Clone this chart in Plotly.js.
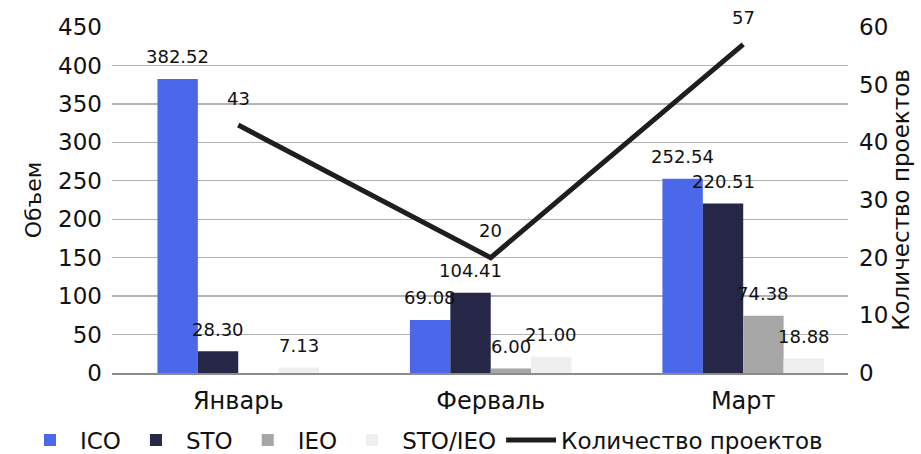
<!DOCTYPE html>
<html>
<head>
<meta charset="utf-8">
<script src="https://cdn.plot.ly/plotly-3.0.1.min.js"></script>
<style>html,body{margin:0;padding:0;background:#fff;}#chart{width:921px;height:454px;}</style>
</head>
<body>
<div id="chart"></div>
<script>
const categories = ['Январь', 'Ферваль', 'Март'];
const icoValues = [382.52, 69.08, 252.54];
const stoValues = [28.30, 104.41, 220.51];
const ieoValues = [null, 6.00, 74.38];
const stoIeoValues = [7.13, 21.00, 18.88];
const projectCounts = [43, 20, 57];
const seriesNames = ['ICO', 'STO', 'IEO', 'STO/IEO'];
const lineName = 'Количество проектов';
const leftTitle = 'Объем';
const rightTitle = 'Количество проектов';

const FONT = 'DejaVu Sans, sans-serif';
const colors = ['#4b68ea', '#262746', '#a6a6a6', '#eeeff1'];
const barSeries = [icoValues, stoValues, ieoValues, stoIeoValues];

const traces = barSeries.map((vals, i) => ({
  type: 'bar', x: categories, y: vals, name: seriesNames[i],
  marker: {color: colors[i]}, yaxis: 'y', hoverinfo: 'skip'
}));
traces.push({
  type: 'scatter', mode: 'lines', x: categories, y: projectCounts, name: lineName,
  yaxis: 'y2', line: {color: '#1e1e1e', width: 5}, hoverinfo: 'skip'
});

// data labels
const plotWidthPx = 921 - 112 - 73;
const xRange = [-0.5, 2.415];
const catPx = plotWidthPx / (xRange[1] - xRange[0]);
const bargap = 0.36;
const barPx = catPx * (1 - bargap) / 4;
const annotations = [];
barSeries.forEach((vals, i) => {
  vals.forEach((v, j) => {
    if (v === null) return;
    annotations.push({
      x: categories[j], y: v, xref: 'x', yref: 'y', text: v.toFixed(2),
      showarrow: false, xshift: (i - 1.5) * barPx, yshift: 22,
      font: {family: FONT, size: 18, color: '#111'}
    });
  });
});
projectCounts.forEach((v, j) => {
  annotations.push({
    x: categories[j], y: v, xref: 'x', yref: 'y2', text: String(v),
    showarrow: false, yshift: 27, font: {family: FONT, size: 18, color: '#111'}
  });
});

const layout = {
  width: 921, height: 454,
  margin: {l: 112, r: 73, t: 27, b: 81, autoexpand: false},
  paper_bgcolor: '#fff', plot_bgcolor: '#fff',
  font: {family: FONT, size: 20, color: '#111'},
  barmode: 'group', bargap: bargap, bargroupgap: 0,
  showlegend: true,
  legend: {orientation: 'h', x: -0.125, xanchor: 'left',
           y: -0.194, yanchor: 'middle',
           itemwidth: 50,
           font: {family: FONT, size: 23, color: '#111'}, traceorder: 'normal'},
  xaxis: {range: xRange, type: 'category', showgrid: false, zeroline: false,
          showline: true, linecolor: '#8c8c8c', linewidth: 1.5,
          tickfont: {family: FONT, size: 24, color: '#111'}, ticks: '', ticklabelstandoff: 6},
  yaxis: {range: [0, 450], dtick: 50, showgrid: true, gridcolor: '#b4b4b4', gridwidth: 1.3,
          zeroline: false, showline: false, ticks: '',
          tickfont: {family: FONT, size: 23, color: '#111'}, ticklabelstandoff: 9,
          title: {text: leftTitle, font: {family: FONT, size: 22, color: '#111'}, standoff: 10}},
  yaxis2: {range: [0, 60], dtick: 10, overlaying: 'y', side: 'right', showgrid: false,
           zeroline: false, showline: false, ticks: '',
           tickfont: {family: FONT, size: 23, color: '#111'}, ticklabelstandoff: 10,
           title: {text: rightTitle, font: {family: FONT, size: 23, color: '#111'}, standoff: 2}},
  annotations: annotations
};

Plotly.newPlot('chart', traces, layout, {staticPlot: true, displayModeBar: false});
</script>
</body>
</html>
